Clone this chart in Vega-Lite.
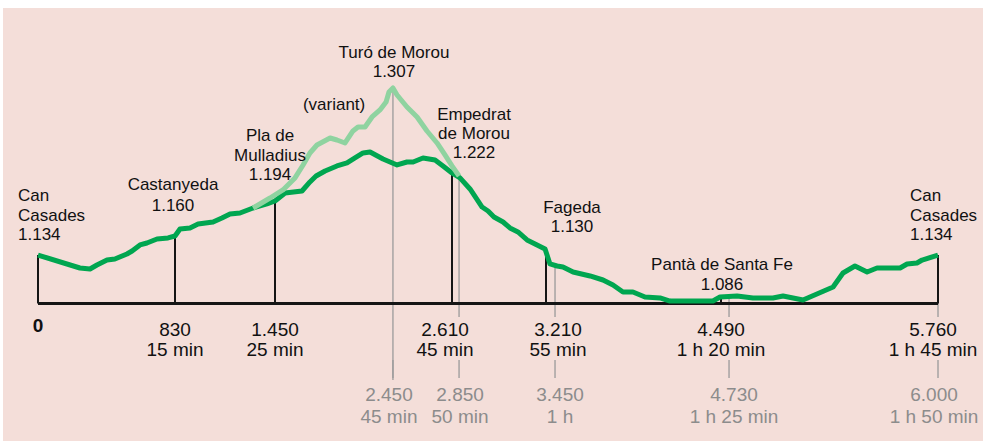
{
  "$schema": "https://vega.github.io/schema/vega-lite/v6.json",
  "width": 980,
  "height": 433,
  "autosize": {"type": "none"},
  "padding": {"left": 3, "top": 8, "right": 0, "bottom": 0},
  "background": "#ffffff",
  "view": {"fill": "#f4ded9", "stroke": null},
  "config": {"text": {"font": "Liberation Sans"}},
  "datasets": {
    "profile": [
      {"d": 0, "e": 1133}, {"d": 254, "e": 1119.5}, {"d": 315, "e": 1118.5}, {"d": 357, "e": 1122.6},
      {"d": 418, "e": 1127.8}, {"d": 466, "e": 1128.9}, {"d": 539, "e": 1134.1}, {"d": 570, "e": 1137.2},
      {"d": 618, "e": 1143.5}, {"d": 660, "e": 1145.5}, {"d": 721, "e": 1149.7}, {"d": 788, "e": 1150.8},
      {"d": 830, "e": 1152.8}, {"d": 861, "e": 1160.1}, {"d": 923, "e": 1161.2}, {"d": 973, "e": 1165.3},
      {"d": 1066, "e": 1167.4}, {"d": 1121, "e": 1171.6}, {"d": 1171, "e": 1175.8}, {"d": 1233, "e": 1176.8},
      {"d": 1314, "e": 1182}, {"d": 1400, "e": 1186.2}, {"d": 1450, "e": 1189.3}, {"d": 1516, "e": 1197.6},
      {"d": 1627, "e": 1199.7}, {"d": 1679, "e": 1209.1}, {"d": 1719, "e": 1215.3}, {"d": 1778, "e": 1220.5},
      {"d": 1856, "e": 1225.8}, {"d": 1922, "e": 1228.9}, {"d": 1974, "e": 1234.1}, {"d": 2027, "e": 1239.3},
      {"d": 2073, "e": 1240.3}, {"d": 2158, "e": 1233}, {"d": 2250, "e": 1226.8}, {"d": 2315, "e": 1229.9},
      {"d": 2355, "e": 1229.9}, {"d": 2420, "e": 1234.1}, {"d": 2499, "e": 1232}, {"d": 2551, "e": 1225.8},
      {"d": 2610, "e": 1218.5}, {"d": 2661, "e": 1213.3}, {"d": 2725, "e": 1201.8}, {"d": 2802, "e": 1183},
      {"d": 2840, "e": 1178.9}, {"d": 2878, "e": 1172.6}, {"d": 2936, "e": 1167.4}, {"d": 2980, "e": 1161.2},
      {"d": 3031, "e": 1157}, {"d": 3089, "e": 1148.7}, {"d": 3153, "e": 1143.5}, {"d": 3204, "e": 1139.3},
      {"d": 3239, "e": 1123.7}, {"d": 3291, "e": 1121.6}, {"d": 3334, "e": 1120.5}, {"d": 3408, "e": 1115.3},
      {"d": 3532, "e": 1111.2}, {"d": 3627, "e": 1107}, {"d": 3700, "e": 1101.8}, {"d": 3773, "e": 1094.5},
      {"d": 3846, "e": 1094.5}, {"d": 3934, "e": 1089.3}, {"d": 4044, "e": 1088.3}, {"d": 4117, "e": 1085.1},
      {"d": 4431, "e": 1085.1}, {"d": 4483, "e": 1089.3}, {"d": 4584, "e": 1090.3}, {"d": 4677, "e": 1088.3},
      {"d": 4794, "e": 1088.3}, {"d": 4853, "e": 1090.3}, {"d": 4970, "e": 1086.2}, {"d": 5146, "e": 1099.7},
      {"d": 5204, "e": 1114.3}, {"d": 5274, "e": 1121.6}, {"d": 5345, "e": 1115.3}, {"d": 5403, "e": 1119.5},
      {"d": 5538, "e": 1119.5}, {"d": 5579, "e": 1123.7}, {"d": 5637, "e": 1124.7}, {"d": 5667, "e": 1127.8},
      {"d": 5760, "e": 1133}
    ],
    "variant": [
      {"d": 1314, "e": 1182}, {"d": 1419, "e": 1192.4}, {"d": 1502, "e": 1200.8}, {"d": 1581, "e": 1213.3},
      {"d": 1634, "e": 1226.8}, {"d": 1679, "e": 1239.3}, {"d": 1725, "e": 1247.6}, {"d": 1811, "e": 1254.9},
      {"d": 1856, "e": 1252.8}, {"d": 1909, "e": 1249.7}, {"d": 1961, "e": 1262.2}, {"d": 1994, "e": 1266.4},
      {"d": 2040, "e": 1266.4}, {"d": 2086, "e": 1276.8}, {"d": 2138, "e": 1284.1}, {"d": 2178, "e": 1292.4},
      {"d": 2197, "e": 1302.8}, {"d": 2223, "e": 1307}, {"d": 2250, "e": 1299.7}, {"d": 2315, "e": 1287.2},
      {"d": 2381, "e": 1276.8}, {"d": 2446, "e": 1262.2}, {"d": 2512, "e": 1249.7}, {"d": 2564, "e": 1237.2},
      {"d": 2610, "e": 1225.8}, {"d": 2655, "e": 1215.3}
    ],
    "waypoints": [
      {"id": "cc0", "kind": "main", "d": 0, "e": 1133, "label": "Can\nCasades\n1.134", "dist": "0"},
      {"id": "cast", "kind": "main", "d": 830, "e": 1152, "label": "Castanyeda\n1.160", "dist": "830\n15 min"},
      {"id": "pla", "kind": "main", "d": 1450, "e": 1189, "label": "Pla de\nMulladius\n1.194", "dist": "1.450\n25 min"},
      {"id": "turo", "kind": "variant", "d": 2223, "e": 1307, "label": "Turó de Morou\n1.307", "dist": ""},
      {"id": "emp", "kind": "main", "d": 2610, "e": 1218.5, "label": "Empedrat\nde Morou\n1.222", "dist": "2.610\n45 min"},
      {"id": "fag", "kind": "main", "d": 3210, "e": 1135, "label": "Fageda\n1.130", "dist": "3.210\n55 min"},
      {"id": "pan", "kind": "main", "d": 4490, "e": 1089, "label": "Pantà de Santa Fe\n1.086", "dist": "4.490\n1 h 20 min"},
      {"id": "cc1", "kind": "main", "d": 5760, "e": 1133, "label": "Can\nCasades\n1.134", "dist": "5.760\n1 h 45 min"}
    ],
    "variantmarks": [
      {"id": "v1", "d": 2223, "top": 1307, "text": "2.450\n45 min"},
      {"id": "v2", "d": 2655, "top": 1217, "text": "2.850\n50 min"},
      {"id": "v3", "d": 3276, "top": 1121.6, "text": "3.450\n1 h"},
      {"id": "v4", "d": 4537, "top": 1090.3, "text": "4.730\n1 h 25 min"},
      {"id": "v5", "d": 5760, "top": 1133, "text": "6.000\n1 h 50 min"}
    ]
  },
  "layer": [
    {
      "data": {"name": "variantmarks"},
      "mark": {"type": "rule", "color": "#9a9a9a", "strokeWidth": 1.3},
      "encoding": {
        "x": {"field": "d", "type": "quantitative", "axis": null, "scale": {"domain": [0, 830, 1450, 2610, 3210, 4490, 5760], "range": [35, 172, 272, 449, 543, 718, 935], "nice": false, "zero": false}},
        "y": {"field": "top", "type": "quantitative", "axis": null, "scale": {"domain": [939.3, 1390.3], "nice": false, "zero": false}},
        "y2": {"datum": 1068.5}
      }
    },
    {
      "data": {"name": "variantmarks"},
      "mark": {"type": "rule", "color": "#9a9a9a", "strokeWidth": 1.3},
      "encoding": {
        "x": {"field": "d", "type": "quantitative"},
        "y": {"datum": 1023.7, "type": "quantitative"},
        "y2": {"datum": 1004.9}
      }
    },
    {
      "data": {"name": "variantmarks"},
      "transform": [{"filter": "datum.id == 'v1'"}],
      "mark": {"type": "rule", "color": "#9a9a9a", "strokeWidth": 1.3},
      "encoding": {
        "x": {"field": "d", "type": "quantitative"},
        "y": {"datum": 1068.5, "type": "quantitative"},
        "y2": {"datum": 1002.8}
      }
    },
    {
      "data": {"name": "waypoints"},
      "transform": [{"filter": "datum.kind == 'main'"}],
      "mark": {"type": "rule", "color": "#151515", "strokeWidth": 2},
      "encoding": {
        "x": {"field": "d", "type": "quantitative"},
        "y": {"field": "e", "type": "quantitative"},
        "y2": {"datum": 1082.5}
      }
    },
    {
      "data": {"values": [{}]},
      "mark": {"type": "rule", "color": "#151515", "strokeWidth": 3},
      "encoding": {
        "x": {"datum": 0, "type": "quantitative"},
        "x2": {"datum": 5760},
        "y": {"datum": 1082.5, "type": "quantitative"}
      }
    },
    {
      "data": {"name": "profile"},
      "mark": {"type": "line", "color": "#00a650", "strokeWidth": 5, "strokeJoin": "round", "strokeCap": "butt"},
      "encoding": {
        "x": {"field": "d", "type": "quantitative"},
        "y": {"field": "e", "type": "quantitative"}
      }
    },
    {
      "data": {"name": "variant"},
      "mark": {"type": "line", "color": "#8fd3a0", "strokeWidth": 5, "strokeJoin": "round", "strokeCap": "butt"},
      "encoding": {
        "x": {"field": "d", "type": "quantitative"},
        "y": {"field": "e", "type": "quantitative"}
      }
    },
    {
      "data": {"name": "waypoints"},
      "transform": [{"filter": "datum.id == 'cc0'"}],
      "mark": {"type": "text", "align": "left", "baseline": "middle", "lineBreak": "\n", "lineHeight": 19.5, "fontSize": 17, "color": "#111111", "dx": -20, "dy": -59},
      "encoding": {"x": {"field": "d", "type": "quantitative"}, "y": {"field": "e", "type": "quantitative"}, "text": {"field": "label"}}
    },
    {
      "data": {"name": "waypoints"},
      "transform": [{"filter": "datum.id == 'cc1'"}],
      "mark": {"type": "text", "align": "left", "baseline": "middle", "lineBreak": "\n", "lineHeight": 19.5, "fontSize": 17, "color": "#111111", "dx": -28, "dy": -59},
      "encoding": {"x": {"field": "d", "type": "quantitative"}, "y": {"field": "e", "type": "quantitative"}, "text": {"field": "label"}}
    },
    {
      "data": {"name": "waypoints"},
      "transform": [{"filter": "datum.id == 'cast'"}],
      "mark": {"type": "text", "align": "center", "baseline": "middle", "lineBreak": "\n", "lineHeight": 21, "fontSize": 17, "color": "#111111", "dx": -2, "dy": -52},
      "encoding": {"x": {"field": "d", "type": "quantitative"}, "y": {"field": "e", "type": "quantitative"}, "text": {"field": "label"}}
    },
    {
      "data": {"name": "waypoints"},
      "transform": [{"filter": "datum.id == 'pla'"}],
      "mark": {"type": "text", "align": "center", "baseline": "middle", "lineBreak": "\n", "lineHeight": 19.5, "fontSize": 17, "color": "#111111", "dx": -5, "dy": -65},
      "encoding": {"x": {"field": "d", "type": "quantitative"}, "y": {"field": "e", "type": "quantitative"}, "text": {"field": "label"}}
    },
    {
      "data": {"name": "waypoints"},
      "transform": [{"filter": "datum.id == 'turo'"}],
      "mark": {"type": "text", "align": "center", "baseline": "middle", "lineBreak": "\n", "lineHeight": 19, "fontSize": 17, "color": "#111111", "dx": 1, "dy": -35},
      "encoding": {"x": {"field": "d", "type": "quantitative"}, "y": {"field": "e", "type": "quantitative"}, "text": {"field": "label"}}
    },
    {
      "data": {"name": "waypoints"},
      "transform": [{"filter": "datum.id == 'emp'"}],
      "mark": {"type": "text", "align": "center", "baseline": "middle", "lineBreak": "\n", "lineHeight": 19, "fontSize": 17, "color": "#111111", "dx": 22, "dy": -58},
      "encoding": {"x": {"field": "d", "type": "quantitative"}, "y": {"field": "e", "type": "quantitative"}, "text": {"field": "label"}}
    },
    {
      "data": {"name": "waypoints"},
      "transform": [{"filter": "datum.id == 'fag'"}],
      "mark": {"type": "text", "align": "center", "baseline": "middle", "lineBreak": "\n", "lineHeight": 19, "fontSize": 17, "color": "#111111", "dx": 26, "dy": -45},
      "encoding": {"x": {"field": "d", "type": "quantitative"}, "y": {"field": "e", "type": "quantitative"}, "text": {"field": "label"}}
    },
    {
      "data": {"name": "waypoints"},
      "transform": [{"filter": "datum.id == 'pan'"}],
      "mark": {"type": "text", "align": "center", "baseline": "middle", "lineBreak": "\n", "lineHeight": 20, "fontSize": 17, "color": "#111111", "dx": 1, "dy": -32},
      "encoding": {"x": {"field": "d", "type": "quantitative"}, "y": {"field": "e", "type": "quantitative"}, "text": {"field": "label"}}
    },
    {
      "data": {"values": [{"label": "(variant)", "d": 1837, "e": 1289.3}]},
      "mark": {"type": "text", "align": "center", "baseline": "middle", "fontSize": 17, "color": "#111111"},
      "encoding": {"x": {"field": "d", "type": "quantitative"}, "y": {"field": "e", "type": "quantitative"}, "text": {"field": "label"}}
    },
    {
      "data": {"name": "waypoints"},
      "transform": [{"filter": "datum.id == 'cc0'"}],
      "mark": {"type": "text", "align": "center", "baseline": "middle", "fontSize": 19, "fontWeight": "bold", "color": "#111111"},
      "encoding": {"x": {"field": "d", "type": "quantitative"}, "y": {"datum": 1059.1, "type": "quantitative"}, "text": {"field": "dist"}}
    },
    {
      "data": {"name": "waypoints"},
      "transform": [{"filter": "datum.id == 'cast' || datum.id == 'pla' || datum.id == 'pan'"}],
      "mark": {"type": "text", "align": "center", "baseline": "middle", "lineBreak": "\n", "lineHeight": 19.5, "fontSize": 19, "color": "#111111"},
      "encoding": {"x": {"field": "d", "type": "quantitative"}, "y": {"datum": 1054.9, "type": "quantitative"}, "text": {"field": "dist"}}
    },
    {
      "data": {"name": "waypoints"},
      "transform": [{"filter": "datum.id == 'emp'"}],
      "mark": {"type": "text", "align": "center", "baseline": "middle", "lineBreak": "\n", "lineHeight": 19.5, "fontSize": 19, "color": "#111111", "dx": -7},
      "encoding": {"x": {"field": "d", "type": "quantitative"}, "y": {"datum": 1054.9, "type": "quantitative"}, "text": {"field": "dist"}}
    },
    {
      "data": {"name": "waypoints"},
      "transform": [{"filter": "datum.id == 'fag'"}],
      "mark": {"type": "text", "align": "center", "baseline": "middle", "lineBreak": "\n", "lineHeight": 19.5, "fontSize": 19, "color": "#111111", "dx": 12},
      "encoding": {"x": {"field": "d", "type": "quantitative"}, "y": {"datum": 1054.9, "type": "quantitative"}, "text": {"field": "dist"}}
    },
    {
      "data": {"name": "waypoints"},
      "transform": [{"filter": "datum.id == 'cc1'"}],
      "mark": {"type": "text", "align": "center", "baseline": "middle", "lineBreak": "\n", "lineHeight": 19.5, "fontSize": 19, "color": "#111111", "dx": -5},
      "encoding": {"x": {"field": "d", "type": "quantitative"}, "y": {"datum": 1054.9, "type": "quantitative"}, "text": {"field": "dist"}}
    },
    {
      "data": {"name": "variantmarks"},
      "transform": [{"filter": "datum.id == 'v1' || datum.id == 'v5'"}],
      "mark": {"type": "text", "align": "center", "baseline": "middle", "lineBreak": "\n", "lineHeight": 21.5, "fontSize": 19, "color": "#8c8c8c", "dx": -4},
      "encoding": {"x": {"field": "d", "type": "quantitative"}, "y": {"datum": 987.2, "type": "quantitative"}, "text": {"field": "text"}}
    },
    {
      "data": {"name": "variantmarks"},
      "transform": [{"filter": "datum.id == 'v2'"}],
      "mark": {"type": "text", "align": "center", "baseline": "middle", "lineBreak": "\n", "lineHeight": 21.5, "fontSize": 19, "color": "#8c8c8c", "dx": 1},
      "encoding": {"x": {"field": "d", "type": "quantitative"}, "y": {"datum": 987.2, "type": "quantitative"}, "text": {"field": "text"}}
    },
    {
      "data": {"name": "variantmarks"},
      "transform": [{"filter": "datum.id == 'v3' || datum.id == 'v4'"}],
      "mark": {"type": "text", "align": "center", "baseline": "middle", "lineBreak": "\n", "lineHeight": 21.5, "fontSize": 19, "color": "#8c8c8c", "dx": 5},
      "encoding": {"x": {"field": "d", "type": "quantitative"}, "y": {"datum": 987.2, "type": "quantitative"}, "text": {"field": "text"}}
    }
  ]
}
